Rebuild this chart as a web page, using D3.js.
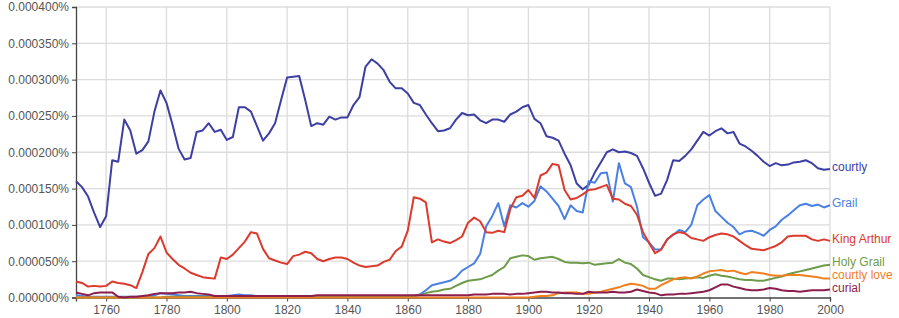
<!DOCTYPE html>
<html>
<head>
<meta charset="utf-8">
<script src="https://cdn.jsdelivr.net/npm/d3@7"></script>
<style>
  body { margin: 0; background: #fff; }
  text { font-family: "Liberation Sans", Arial, sans-serif; }
</style>
</head>
<body>
<div id="chart"></div>
<script>
// Data: yearly share in units of 0.000001 %, sampled every 2 years 1750-2000
var years = d3.range(1750, 2001, 2);

var courtly = [
  160, 152, 139, 117, 97, 112, 189, 187, 245, 230,
  198, 203, 215, 256, 285, 268, 238, 205, 190, 192,
  228, 230, 240, 228, 231, 217, 221, 262, 262, 256,
  236, 216, 226, 240, 272, 303, 304, 305, 272, 236,
  240, 238, 249, 245, 248, 248, 265, 276, 318, 328,
  322, 313, 297, 288, 288, 281, 268, 265, 252, 240,
  229, 230, 233, 245, 254, 251, 252, 244, 240, 245,
  245, 242, 252, 256, 262, 265, 246, 240, 222, 220,
  216, 198, 182, 157, 149, 155, 172, 186, 200, 204,
  200, 201, 199, 195, 178, 158, 140, 143, 162, 189,
  188, 195, 204, 216, 228, 223, 229, 233, 226, 228,
  212, 208, 202, 195, 187, 181, 185, 182, 183, 186,
  187, 189, 185, 178, 176, 177
];

var grail = [
  3, 2, 1, 1, 1, 1, 1, 1, 1, 1,
  1, 1, 1, 3, 6, 5, 4, 3, 2, 2,
  2, 2, 2, 2, 2, 2, 3, 4, 3, 3,
  2, 1, 1, 1, 1, 1, 1, 1, 1, 1,
  1, 1, 1, 1, 1, 1, 1, 1, 1, 1,
  1, 1, 1, 1, 1, 1, 2, 4, 10, 17,
  19, 21, 23, 28, 37, 42, 47, 60, 98, 112,
  130, 98, 127, 124, 130, 125, 133, 153, 146, 136,
  126, 108, 127, 119, 117, 160, 158, 171, 172, 132,
  185, 157, 152, 125, 83, 76, 66, 66, 80, 86,
  93, 90, 100, 127, 135, 141, 119, 111, 103, 97,
  87, 91, 92, 89, 85, 93, 98, 107, 113, 120,
  127, 129, 126, 128, 124, 127
];

var kingArthur = [
  22, 20, 15, 16, 15, 16, 22, 20, 19, 17,
  13, 35, 60, 68, 84, 62, 53, 45, 40, 34,
  31, 28, 27, 26, 55, 53, 59, 68, 77, 90,
  88, 67, 54, 51, 48, 46, 57, 59, 63, 61,
  53, 50, 53, 55, 55, 53, 48, 44, 42, 43,
  44, 49, 52, 64, 70, 92, 138, 136, 131, 76,
  80, 77, 75, 79, 84, 103, 110, 105, 90, 89,
  92, 90, 122, 138, 140, 148, 137, 168, 172, 184,
  182, 148, 135, 137, 142, 148, 149, 152, 155, 136,
  135, 129, 126, 114, 90, 75, 61, 66, 80, 87,
  90, 88, 82, 80, 78, 83, 86, 88, 87, 84,
  78, 72, 67, 66, 65, 68, 71, 76, 84, 85,
  85, 85, 80, 78, 80, 78
];

var holyGrail = [
  0, 0, 0, 0, 0, 0, 0, 0, 0, 0,
  0, 0, 0, 0, 0, 1, 1, 1, 1, 1,
  1, 1, 1, 1, 1, 1, 1, 1, 1, 1,
  1, 1, 1, 1, 1, 1, 1, 1, 1, 1,
  1, 1, 1, 1, 1, 1, 1, 1, 1, 1,
  1, 1, 1, 1, 1, 1, 2, 3, 6, 8,
  9, 11, 12, 16, 20, 23, 24, 25, 28, 31,
  37, 42, 54, 56, 58, 57, 52, 54, 55, 56,
  53, 49, 48, 48, 47, 48, 45, 46, 47, 48,
  53, 48, 46, 40, 31, 28, 25, 23, 26, 26,
  25, 26, 27, 28, 27, 30, 32, 30, 29, 27,
  25, 24, 24, 23, 23, 25, 27, 29, 32, 34,
  36, 38, 40, 42, 44, 45
];

var courtlyLove = [
  0, 0, 0, 0, 0, 0, 0, 0, 0, 0,
  0, 0, 0, 0, 0, 0, 0, 0, 0, 0,
  0, 0, 0, 0, 0, 0, 0, 0, 0, 0,
  0, 0, 0, 0, 0, 0, 0, 0, 0, 0,
  0, 0, 0, 0, 0, 0, 0, 0, 0, 0,
  0, 0, 0, 0, 0, 0, 0, 0, 0, 0,
  0, 0, 0, 0, 0, 0, 0, 0, 0, 0,
  0, 0, 0, 0, 0, 0, 1, 2, 2, 3,
  6, 7, 7, 7, 5, 5, 7, 8, 10, 12,
  14, 17, 19, 18, 16, 12, 12, 17, 21, 25,
  27, 28, 26, 29, 33, 36, 37, 38, 36, 37,
  34, 32, 35, 34, 33, 31, 30, 30, 31, 31,
  31, 30, 29, 28, 26, 26
];

var curial = [
  7, 5, 3, 6, 7, 7, 7, 1, 0, 1,
  1, 2, 3, 5, 6, 6, 6, 7, 7, 8,
  6, 5, 4, 2, 2, 2, 2, 2, 2, 2,
  2, 2, 2, 2, 2, 2, 2, 2, 2, 2,
  3, 3, 3, 3, 3, 3, 3, 3, 3, 3,
  3, 3, 3, 3, 3, 3, 3, 3, 3, 3,
  3, 3, 3, 3, 3, 3, 4, 4, 4, 5,
  5, 5, 4, 5, 5, 6, 7, 8, 8, 7,
  7, 6, 6, 5, 5, 8, 7, 7, 7, 8,
  7, 7, 8, 11, 9, 7, 6, 3, 4, 4,
  5, 5, 6, 7, 8, 10, 14, 18, 18, 15,
  13, 11, 10, 10, 11, 13, 12, 10, 9, 9,
  8, 9, 10, 10, 10, 11
];

var seriesNames = ["courtly", "Grail", "King Arthur", "Holy Grail", "courtly love", "curial"];
var seriesValues = [courtly, grail, kingArthur, holyGrail, courtlyLove, curial];
var seriesColors = ["#3c3fa3", "#4a80e4", "#db3a2c", "#6d9b4a", "#f0801f", "#8b1e4e"];

var xTicks = d3.range(1760, 2001, 20);
var yTicks = [0, 50, 100, 150, 200, 250, 300, 350, 400];

// Set up chart
var svgWidth = 899;
var svgHeight = 318;

var margin = { top: 7, right: 69, bottom: 20.5, left: 76 };
var width = svgWidth - margin.left - margin.right;
var height = svgHeight - margin.top - margin.bottom;

var svg = d3.select("#chart")
  .append("svg")
  .attr("width", svgWidth)
  .attr("height", svgHeight);

var chartGroup = svg.append("g")
  .attr("transform", `translate(${margin.left}, ${margin.top})`);

var xScale = d3.scaleLinear()
  .domain([1750, 2000])
  .range([0, width]);

var yScale = d3.scaleLinear()
  .domain([0, 400])
  .range([height, 0]);

// Gridlines
chartGroup.append("g")
  .selectAll("line.vgrid")
  .data(xTicks)
  .enter()
  .append("line")
  .attr("x1", d => xScale(d))
  .attr("x2", d => xScale(d))
  .attr("y1", 0)
  .attr("y2", height)
  .attr("stroke", "#dcdcdc")
  .attr("stroke-width", 1.3);

chartGroup.append("g")
  .selectAll("line.hgrid")
  .data(yTicks.slice(1))
  .enter()
  .append("line")
  .attr("x1", 0)
  .attr("x2", width)
  .attr("y1", d => yScale(d))
  .attr("y2", d => yScale(d))
  .attr("stroke", "#dcdcdc")
  .attr("stroke-width", 1.3);

// Axes
var leftAxis = d3.axisLeft(yScale)
  .tickValues(yTicks)
  .tickSize(4)
  .tickPadding(3)
  .tickFormat(d => (d / 1e6).toFixed(6) + "%");

var bottomAxis = d3.axisBottom(xScale)
  .tickValues(xTicks)
  .tickSize(4)
  .tickPadding(4)
  .tickFormat(d3.format("d"));

var yAxisG = chartGroup.append("g")
  .call(leftAxis);

var xAxisG = chartGroup.append("g")
  .attr("transform", `translate(0, ${height})`)
  .call(bottomAxis);

[yAxisG, xAxisG].forEach(function(g) {
  g.select(".domain").attr("stroke", "#444").attr("stroke-width", 1.3);
  g.selectAll(".tick line").attr("stroke", "#444");
  g.selectAll(".tick text")
    .attr("fill", "#555")
    .style("font-size", "12px");
});

// Lines
var line = d3.line()
  .x((d, i) => xScale(years[i]))
  .y(d => yScale(d));

chartGroup.selectAll("path.series")
  .data(seriesValues)
  .enter()
  .append("path")
  .attr("class", "series")
  .attr("d", d => line(d))
  .attr("fill", "none")
  .attr("stroke", (d, i) => seriesColors[i])
  .attr("stroke-width", 2)
  .attr("stroke-linejoin", "round");

// Labels at the right end, pushed apart from the bottom up
var labelY = seriesValues.map(v => yScale(v[v.length - 1]) - 2);
for (var i = labelY.length - 2; i >= 0; i--) {
  if (labelY[i] > labelY[i + 1] - 13) {
    labelY[i] = labelY[i + 1] - 13;
  }
}

chartGroup.selectAll("text.seriesLabel")
  .data(seriesNames)
  .enter()
  .append("text")
  .attr("class", "seriesLabel")
  .attr("x", width + 2)
  .attr("y", (d, i) => labelY[i])
  .attr("dy", "0.35em")
  .attr("fill", (d, i) => seriesColors[i])
  .style("font-size", "12px")
  .text(d => d);
</script>
</body>
</html>
